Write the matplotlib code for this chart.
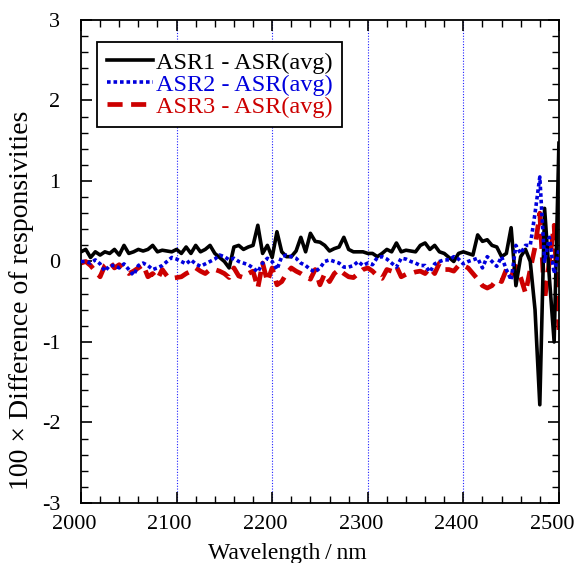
import numpy as np
import matplotlib.pyplot as plt
import matplotlib.transforms as mtransforms
from matplotlib.ticker import MultipleLocator

plt.rcParams['font.family'] = ['Liberation Serif', 'DejaVu Serif']
plt.rcParams['axes.unicode_minus'] = False

# wavelength grid (nm), 5 nm steps
wavelength = np.arange(2000, 2501, 5)

asr1 = [0.12, 0.15, 0.05, 0.12, 0.08, 0.12, 0.10, 0.15, 0.08, 0.20,
        0.10, 0.12, 0.15, 0.13, 0.15, 0.20, 0.12, 0.14, 0.13, 0.12,
        0.15, 0.10, 0.18, 0.10, 0.20, 0.12, 0.15, 0.20, 0.10, 0.05,
        0.00, -0.08, 0.18, 0.20, 0.15, 0.18, 0.20, 0.45, 0.10, 0.20,
        0.05, 0.37, 0.12, 0.06, 0.06, 0.13, 0.30, 0.12, 0.35, 0.25,
        0.24, 0.20, 0.13, 0.16, 0.18, 0.30, 0.15, 0.12, 0.12, 0.12,
        0.10, 0.10, 0.06, 0.10, 0.15, 0.12, 0.23, 0.12, 0.14, 0.13,
        0.12, 0.20, 0.23, 0.15, 0.20, 0.12, 0.10, 0.05, 0.00, 0.10,
        0.12, 0.10, 0.08, 0.33, 0.25, 0.27, 0.20, 0.18, 0.06, 0.10,
        0.42, -0.30, 0.06, 0.15, 0.00, -0.60, -1.78, 0.66, -0.20, -1.00,
        1.47]

asr2 = [0.00, 0.00, -0.02, 0.02, -0.03, -0.12, -0.05, -0.05, -0.08, -0.03,
        -0.10, -0.17, -0.05, -0.02, -0.05, -0.10, -0.08, -0.05, 0.00, 0.05,
        0.03, 0.00, -0.03, 0.02, -0.03, -0.06, -0.03, 0.00, 0.03, 0.08,
        0.06, 0.02, 0.04, 0.00, -0.02, -0.04, -0.08, -0.13, -0.02, 0.04,
        0.00, -0.10, 0.06, 0.08, 0.06, 0.04, -0.02, -0.05, -0.10, -0.13,
        -0.08, 0.00, 0.02, 0.00, -0.02, -0.07, -0.07, -0.05, 0.00, -0.05,
        -0.02, -0.04, 0.05, 0.06, 0.03, -0.02, -0.07, 0.04, 0.03, 0.00,
        -0.02, -0.05, -0.05, -0.13, -0.03, 0.00, 0.02, 0.02, 0.06, 0.03,
        -0.03, 0.00, 0.02, 0.04, -0.08, 0.06, 0.00, -0.06, 0.06, -0.10,
        -0.23, 0.20, 0.10, 0.20, 0.20, 0.60, 1.05, 0.00, 0.30, -0.15,
        0.15]

asr3 = [-0.02, 0.00, -0.05, -0.12, -0.19, -0.05, 0.00, -0.08, -0.04, -0.10,
        -0.15, -0.12, -0.08, -0.04, -0.19, -0.15, -0.22, -0.10, -0.18, -0.21,
        -0.20, -0.19, -0.15, -0.12, -0.08, -0.12, -0.15, -0.10, -0.10, -0.12,
        -0.15, -0.20, -0.08, -0.18, -0.20, -0.15, -0.12, -0.33, -0.02, -0.25,
        -0.08, -0.29, -0.25, -0.15, -0.08, -0.12, -0.15, -0.19, -0.22, -0.10,
        -0.29, -0.15, -0.25, -0.15, -0.10, -0.15, -0.19, -0.20, -0.15, -0.10,
        -0.08, -0.12, -0.18, -0.21, -0.10, -0.12, -0.06, -0.19, -0.16, -0.15,
        -0.13, -0.12, -0.15, -0.08, -0.15, -0.02, -0.10, -0.10, -0.12, -0.05,
        -0.05, -0.08, -0.15, -0.22, -0.30, -0.33, -0.30, -0.22, -0.25, -0.10,
        -0.19, -0.06, -0.20, -0.39, -0.10, 0.18, 0.60, -0.48, 0.00, 0.45,
        -0.85]

fig = plt.figure(figsize=(5.81, 5.63), dpi=100)
ax = fig.add_axes([0.1394, 0.1066, 0.8226, 0.8579])

for xv in [2100, 2200, 2300, 2400]:
    ax.axvline(xv, color='#2020ff', lw=0.8, ls=(0, (1, 1.5)), zorder=1)

ax.plot(wavelength, asr1, color='black', lw=2.6, label='ASR1 - ASR(avg)', zorder=3)
ax.plot(wavelength, asr2, color='#0000dd', lw=2.6, ls=(0, (1, 0.8)),
        label='ASR2 - ASR(avg)', zorder=3)
ax.plot(wavelength, asr3, color='#cc0000', lw=3.4, ls=(0, (3.2, 1.8)),
        label='ASR3 - ASR(avg)', zorder=2)

ax.set_xlim(2000, 2500)
ax.set_ylim(-3, 3)
ax.xaxis.set_major_locator(MultipleLocator(100))
ax.xaxis.set_minor_locator(MultipleLocator(20))
ax.yaxis.set_major_locator(MultipleLocator(1))
ax.yaxis.set_minor_locator(MultipleLocator(0.2))
ax.tick_params(which='both', direction='in', top=True, right=True, labelsize=16)
ax.tick_params(which='major', length=8, width=1.2)
ax.tick_params(axis='x', which='major', pad=9)
ax.tick_params(axis='y', which='major', pad=15)
ax.tick_params(which='minor', length=5, width=1.0)
for s in ax.spines.values():
    s.set_linewidth(1.3)

# x tick labels sit slightly left of their ticks in the original
shift = mtransforms.ScaledTranslation(-7 / 100, 0, fig.dpi_scale_trans)
for lbl in ax.get_xticklabels():
    lbl.set_transform(lbl.get_transform() + shift)

fig.text(287 / 581, 4 / 563, 'Wavelength\u2009/\u2009nm', fontsize=17,
         ha='center', va='baseline')
fig.text(22 / 581, 1 - 300 / 563, '100 \u00d7 Difference of responsivities',
         fontsize=20, rotation=90, ha='center', va='center')

leg = ax.legend(loc='upper left', bbox_to_anchor=(0.0335, 0.9545), fontsize=17.5,
                frameon=True, fancybox=False, edgecolor='black', framealpha=1,
                handlelength=1.9, handletextpad=0.12, borderpad=0.4,
                labelspacing=0.0, borderaxespad=0)
leg.get_frame().set_linewidth(1.3)
for txt, c in zip(leg.get_texts(), ['black', '#0000dd', '#cc0000']):
    txt.set_color(c)

fig.savefig('out.png', dpi=100)
